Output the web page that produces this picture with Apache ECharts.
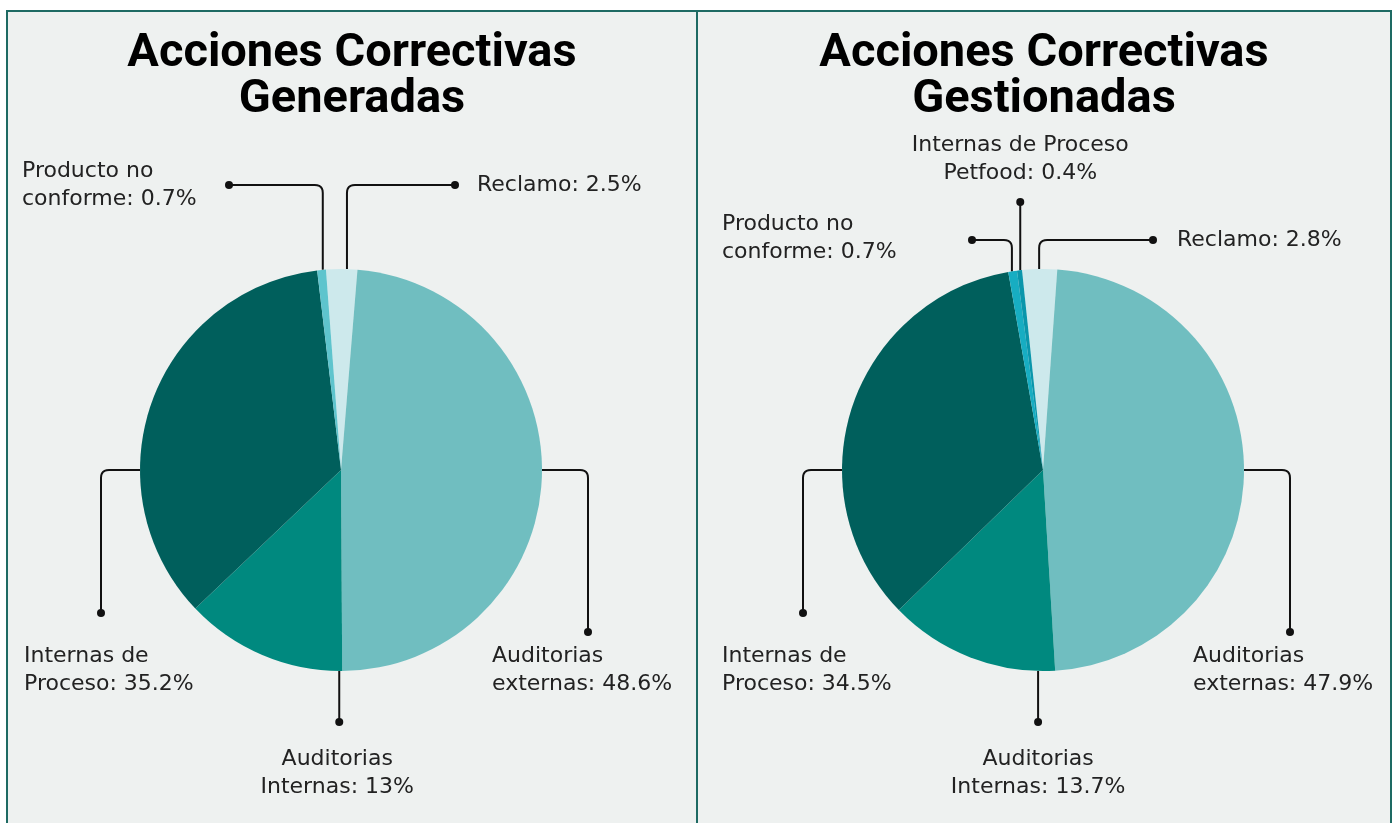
<!DOCTYPE html>
<html>
<head>
<meta charset="utf-8">
<script src="https://cdn.jsdelivr.net/npm/echarts@6/dist/echarts.min.js"></script>
<style>
    html, body { margin: 0; padding: 0; background: #fff; width: 1396px; height: 823px; overflow: hidden; }
    .panel { position: absolute; top: 10px; height: 830px; box-sizing: border-box; border: 2px solid #1e6a63; background: #eef1f0; }
    #generadas { left: 6px; width: 692px; }
    #gestionadas { left: 696px; width: 696px; }
</style>
</head>
<body>
<div class="panel" id="generadas"></div>
<div class="panel" id="gestionadas"></div>
<script>
// datos
const generadasCategories = ['Reclamo', 'Auditorias\nexternas', 'Auditorias\nInternas', 'Internas de\nProceso', 'Producto no\nconforme']
const generadasValues = [2.5, 48.6, 13, 35.2, 0.7]
const gestionadasCategories = ['Reclamo', 'Auditorias\nexternas', 'Auditorias\nInternas', 'Internas de\nProceso', 'Producto no\nconforme', 'Internas de Proceso\nPetfood']
const gestionadasValues = [2.8, 47.9, 13.7, 34.5, 0.7, 0.4]

const generadasColors = ['#cde9ec', '#70bec0', '#00897f', '#005f5c', '#5ec4cd']
const gestionadasColors = ['#cde9ec', '#70bec0', '#00897f', '#005f5c', '#17adc2', '#0a96ab']

// lineas guia: angulo de salida en el borde, tramos (v = y, h = x relativos al centro), posicion del texto respecto al punto
const generadasLeaders = [
    { angle: 1.7, legs: [['v', -285], ['h', 114]], label: { dx: 22, dy: 0, align: 'left', vAlign: 'middle' } },
    { angle: 90, legs: [['h', 247], ['v', 162]], label: { dx: -96, dy: 10, align: 'left', vAlign: 'top' } },
    { angle: 180.5, legs: [['v', 252]], label: { dx: -2, dy: 23, align: 'center', vAlign: 'top' } },
    { angle: 270, legs: [['h', -240], ['v', 143]], label: { dx: -77, dy: 29, align: 'left', vAlign: 'top' } },
    { angle: -5.2, legs: [['v', -285], ['h', -112]], label: { dx: -207, dy: 0, align: 'left', vAlign: 'middle' } }
]
const gestionadasLeaders = [
    { angle: -1.1, legs: [['v', -230], ['h', 110]], label: { dx: 24, dy: 0, align: 'left', vAlign: 'middle' } },
    { angle: 90, legs: [['h', 247], ['v', 162]], label: { dx: -97, dy: 10, align: 'left', vAlign: 'top' } },
    { angle: 181.4, legs: [['v', 252]], label: { dx: 0, dy: 23, align: 'center', vAlign: 'top' } },
    { angle: 270, legs: [['h', -240], ['v', 143]], label: { dx: -81, dy: 29, align: 'left', vAlign: 'top' } },
    { angle: -8.9, legs: [['v', -230], ['h', -71]], label: { dx: -250, dy: -2, align: 'left', vAlign: 'middle' } },
    { angle: -6.5, legs: [['v', -268]], label: { dx: 0, dy: -15, align: 'center', vAlign: 'bottom' } }
]

const RADIUS = 201
const LABEL_FONT = 'DejaVu Sans'

function route(center, spec) {
    const a = spec.angle * Math.PI / 180
    const pts = [[center[0] + RADIUS * Math.sin(a), center[1] - RADIUS * Math.cos(a)]]
    spec.legs.forEach(([dir, v]) => {
        const last = pts[pts.length - 1]
        pts.push(dir === 'v' ? [last[0], center[1] + v] : [center[0] + v, last[1]])
    })
    return pts
}

// esquinas redondeadas
function roundCorners(pts, rad) {
    const out = [pts[0]]
    for (let i = 1; i < pts.length - 1; i++) {
        const p0 = pts[i - 1], p1 = pts[i], p2 = pts[i + 1]
        const l1 = Math.hypot(p1[0] - p0[0], p1[1] - p0[1])
        const l2 = Math.hypot(p2[0] - p1[0], p2[1] - p1[1])
        const r = Math.min(rad, l1 / 2, l2 / 2)
        const a = [p1[0] - (p1[0] - p0[0]) / l1 * r, p1[1] - (p1[1] - p0[1]) / l1 * r]
        const b = [p1[0] + (p2[0] - p1[0]) / l2 * r, p1[1] + (p2[1] - p1[1]) / l2 * r]
        for (let k = 0; k <= 6; k++) {
            const t = k / 6
            out.push([
                (1 - t) * (1 - t) * a[0] + 2 * (1 - t) * t * p1[0] + t * t * b[0],
                (1 - t) * (1 - t) * a[1] + 2 * (1 - t) * t * p1[1] + t * t * b[1]
            ])
        }
    }
    out.push(pts[pts.length - 1])
    return out
}

function buildOption(title, categories, values, colors, leaders, center, startAngle) {
    const dots = leaders.map(spec => {
        const pts = route(center, spec)
        return pts[pts.length - 1]
    })
    return {
        animation: false,
        title: {
            text: title,
            left: 'center',
            top: 19,
            padding: 0,
            textStyle: {
                fontFamily: 'Roboto',
                fontWeight: 'bold',
                fontSize: 47,
                lineHeight: 46,
                color: '#000'
            }
        },
        graphic: dots.map(d => ({
            type: 'circle',
            silent: true,
            shape: { cx: d[0], cy: d[1], r: 4 },
            style: { fill: '#111' }
        })),
        series: [{
            type: 'pie',
            center: center,
            radius: RADIUS,
            startAngle: startAngle,
            avoidLabelOverlap: false,
            emphasis: { disabled: true },
            label: {
                show: true,
                position: 'outside',
                formatter: '{b}: {c}%',
                fontFamily: LABEL_FONT,
                fontSize: 22,
                lineHeight: 28,
                color: '#222'
            },
            labelLine: {
                show: true,
                lineStyle: { color: '#111', width: 2 }
            },
            labelLayout: function (params) {
                const spec = leaders[params.dataIndex]
                const pts = route(center, spec)
                const dot = pts[pts.length - 1]
                return {
                    x: dot[0] + spec.label.dx,
                    y: dot[1] + spec.label.dy,
                    align: spec.label.align,
                    verticalAlign: spec.label.vAlign,
                    labelLinePoints: roundCorners(pts, 8)
                }
            },
            data: categories.map((name, i) => ({
                name: name,
                value: values[i],
                itemStyle: { color: colors[i] }
            }))
        }]
    }
}

const chartGeneradas = echarts.init(document.getElementById('generadas'))
chartGeneradas.setOption(buildOption('Acciones Correctivas\nGeneradas', generadasCategories, generadasValues,
    generadasColors, generadasLeaders, [333, 458], 94.3))

const chartGestionadas = echarts.init(document.getElementById('gestionadas'))
chartGestionadas.setOption(buildOption('Acciones Correctivas\nGestionadas', gestionadasCategories, gestionadasValues,
    gestionadasColors, gestionadasLeaders, [345, 458], 96))
</script>
</body>
</html>
